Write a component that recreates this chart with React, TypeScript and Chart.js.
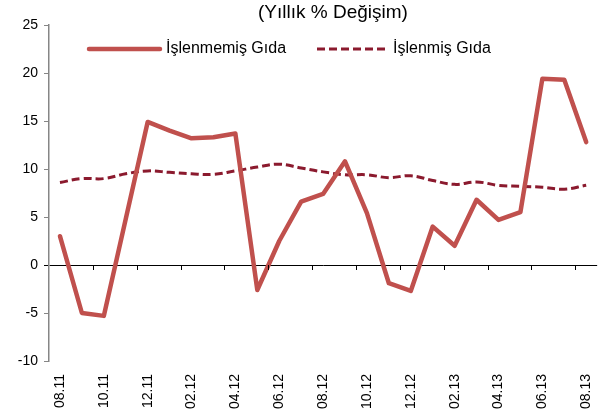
import React, { useEffect, useRef } from "react";
import { Chart, registerables } from "chart.js";

Chart.register(...registerables);

const months = [
  "08.11", "09.11", "10.11", "11.11", "12.11", "01.12", "02.12", "03.12", "04.12",
  "05.12", "06.12", "07.12", "08.12", "09.12", "10.12", "11.12", "12.12",
  "01.13", "02.13", "03.13", "04.13", "05.13", "06.13", "07.13", "08.13",
];

const islenmemisGida = [
  3.0, -5.0, -5.3, 4.8, 14.9, 14.0, 13.2, 13.3, 13.7, -2.6, 2.5, 6.6, 7.4,
  10.8, 5.4, -1.9, -2.7, 4.0, 2.0, 6.8, 4.7, 5.5, 19.4, 19.3, 12.8,
];

const islenmisGida = [
  8.6, 9.0, 9.0, 9.5, 9.8, 9.65, 9.5, 9.45, 9.8, 10.2, 10.5, 10.1, 9.7,
  9.4, 9.4, 9.1, 9.3, 8.8, 8.4, 8.65, 8.3, 8.2, 8.1, 7.9, 8.3,
];

const seriesNames = ["İşlenmemiş Gıda", "İşlenmiş Gıda"];
const titleText = "(Yıllık % Değişim)";
const yMin = -10;
const yMax = 25;
const yStep = 5;

const FONT = "'Liberation Sans', Arial, sans-serif";

const overlayPlugin = {
  id: "overlay",
  afterDatasetsDraw(chart: any) {
    const ctx = chart.ctx;
    const x = chart.scales.x;
    const y = chart.scales.y;
    const y0 = y.getPixelForValue(0);
    ctx.save();
    ctx.strokeStyle = "#000000";
    ctx.lineWidth = 1;
    for (let k = 1; 2 * k < months.length; k++) {
      const px = Math.round((x.getPixelForValue(2 * k - 1) + x.getPixelForValue(2 * k)) / 2) + 0.5;
      ctx.beginPath();
      ctx.moveTo(px, y0);
      ctx.lineTo(px, y0 + 5);
      ctx.stroke();
    }
    ctx.fillStyle = "#000000";
    ctx.font = `19px ${FONT}`;
    ctx.textAlign = "left";
    ctx.textBaseline = "middle";
    ctx.fillText(titleText, 258, 13);
    const ds = chart.data.datasets;
    const lx = [89, 317];
    const lw = [71, 70];
    const ly = 49;
    ds.forEach((d: any, i: number) => {
      ctx.save();
      ctx.strokeStyle = d.borderColor;
      ctx.lineWidth = d.borderWidth;
      ctx.lineCap = i === 0 ? "round" : "butt";
      ctx.setLineDash(d.borderDash || []);
      ctx.beginPath();
      ctx.moveTo(lx[i], ly);
      ctx.lineTo(lx[i] + lw[i], ly);
      ctx.stroke();
      ctx.restore();
      ctx.fillStyle = "#000000";
      ctx.font = `16px ${FONT}`;
      ctx.textAlign = "left";
      ctx.textBaseline = "middle";
      ctx.fillText(d.label, lx[i] + lw[i] + 6, ly);
    });
    ctx.restore();
  },
};

export default function App() {
  const ref = useRef<HTMLCanvasElement>(null);
  useEffect(() => {
    document.body.style.margin = "0";
    const chart = new Chart(ref.current as HTMLCanvasElement, {
      type: "line",
      data: {
        labels: months,
        datasets: [
          {
            label: seriesNames[0],
            data: islenmemisGida,
            borderColor: "#C0504D",
            backgroundColor: "#C0504D",
            borderWidth: 4.5,
            pointRadius: 0,
            tension: 0,
            borderJoinStyle: "round",
            borderCapStyle: "round",
          },
          {
            label: seriesNames[1],
            data: islenmisGida,
            borderColor: "#8B1A2E",
            backgroundColor: "#8B1A2E",
            borderWidth: 3,
            borderDash: [8, 4],
            pointRadius: 0,
            tension: 0.4,
          },
        ],
      },
      options: {
        animation: false,
        responsive: false,
        maintainAspectRatio: false,
        layout: { padding: { top: 25, right: 0, left: 0, bottom: 0 } },
        plugins: {
          legend: { display: false },
          title: { display: false },
          tooltip: { enabled: false },
        },
        scales: {
          x: {
            offset: true,
            grid: { display: false },
            border: { display: false },
            ticks: {
              autoSkip: false,
              maxRotation: 90,
              minRotation: 90,
              padding: 5,
              color: "#000000",
              font: { family: FONT, size: 14 },
              callback: (_v: any, i: number) => (i % 2 === 0 ? months[i] : ""),
            },
            afterFit: (s: any) => {
              s.height = 55;
            },
          },
          y: {
            min: yMin,
            max: yMax,
            ticks: {
              stepSize: yStep,
              padding: 6,
              color: "#000000",
              font: { family: FONT, size: 14 },
            },
            grid: {
              drawOnChartArea: true,
              drawTicks: true,
              tickLength: 5,
              color: (c: any) => (c.tick && c.tick.value === 0 ? "#000000" : "rgba(0,0,0,0)"),
              tickColor: (c: any) => (c.tick && c.tick.value === 0 ? "#000000" : "#868686"),
            },
            border: { display: true, color: "#868686", width: 1.5 },
            afterFit: (s: any) => {
              s.width = 49;
            },
          },
        },
      },
      plugins: [overlayPlugin],
    });
    return () => chart.destroy();
  }, []);
  return <canvas ref={ref} width={608} height={416} style={{ display: "block" }} />;
}
